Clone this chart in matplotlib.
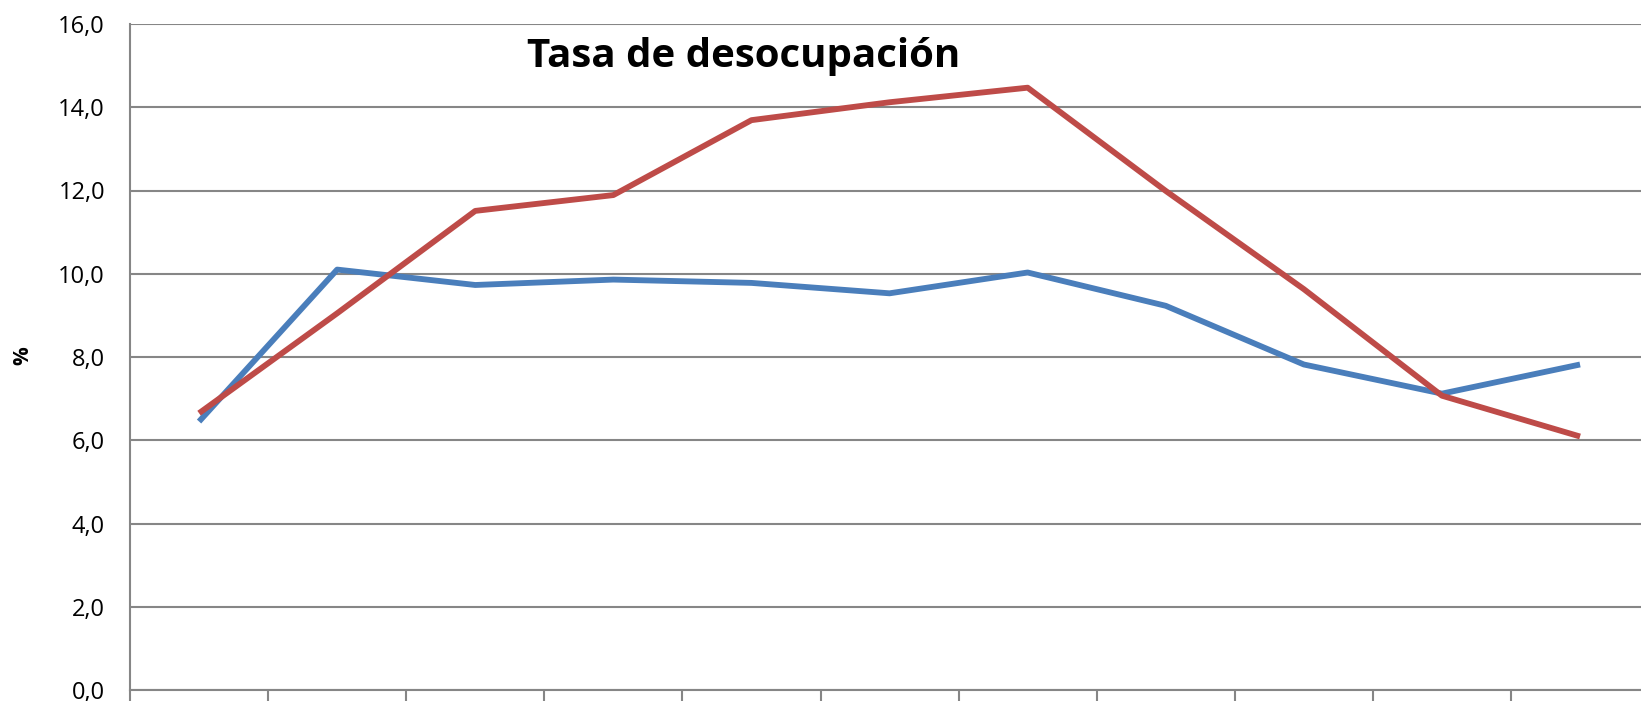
import matplotlib.pyplot as plt
from matplotlib.ticker import FuncFormatter

# datos (11 periodos, sin etiquetas visibles)
periodos = list(range(11))
serie_azul = [6.45, 10.1, 9.73, 9.86, 9.78, 9.53, 10.03, 9.23, 7.82, 7.12, 7.82]
serie_roja = [6.65, 9.05, 11.51, 11.89, 13.69, 14.12, 14.47, 11.99, 9.63, 7.07, 6.09]
y_ticks = [0, 2, 4, 6, 8, 10, 12, 14, 16]

plt.rcParams['font.family'] = ['Open Sans', 'DejaVu Sans']

fig = plt.figure(figsize=(16.41, 7.01), dpi=100)
ax = fig.add_axes([130 / 1641, 11 / 701, 1 - 130 / 1641, 666 / 701])

x = [p + 0.5 for p in periodos]
ax.plot(x, serie_azul, color='#4A7EBB', linewidth=4.2, solid_capstyle='butt', zorder=3)
ax.plot(x, serie_roja, color='#BE4B48', linewidth=4.2, solid_capstyle='butt', zorder=3)

ax.set_ylim(0, 16)
ax.set_xlim(0, (1641 - 130) / 138.1)
ax.set_yticks(y_ticks)
ax.yaxis.set_major_formatter(FuncFormatter(lambda v, pos: f'{v:.1f}'.replace('.', ',')))
ax.set_xticks(range(0, 11))
ax.set_xticklabels([])

ax.grid(axis='y', color='#868686', linewidth=1.5)
ax.set_axisbelow(True)
for s in ['top', 'right']:
    ax.spines[s].set_visible(False)
for s in ['left', 'bottom']:
    ax.spines[s].set_color('#868686')
    ax.spines[s].set_linewidth(1.5)

ax.tick_params(axis='y', length=0, pad=18, labelsize=17)
ax.tick_params(axis='x', direction='out', length=10, width=1.5, color='#868686')

fig.text(23 / 1641, 1 - 356 / 701, '%', fontsize=15, fontweight='bold',
         rotation=90, ha='center', va='center')

fig.text(744 / 1641, 1 - 57 / 701, 'Tasa de desocupación', fontsize=29, fontweight='bold',
         ha='center', va='center')

fig.savefig('out.png', dpi=100)
